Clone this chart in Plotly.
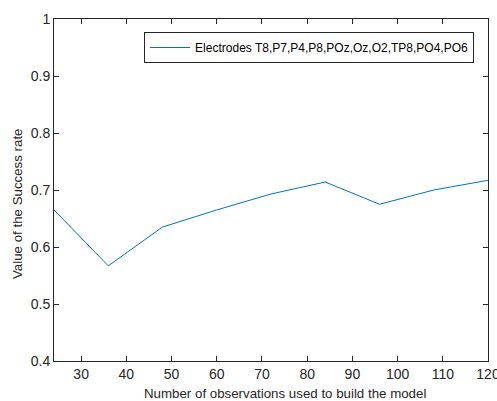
import plotly.graph_objects as go

observations = [24, 36, 48, 60, 72, 84, 96, 108, 120]
success_rate = [0.665, 0.567, 0.635, 0.665, 0.693, 0.714, 0.675, 0.700, 0.717]
series_name = "Electrodes T8,P7,P4,P8,POz,Oz,O2,TP8,PO4,PO6"
x_ticks = [30, 40, 50, 60, 70, 80, 90, 100, 110, 120]
y_ticks = [0.4, 0.5, 0.6, 0.7, 0.8, 0.9, 1]
y_ticklabels = ["0.4", "0.5", "0.6", "0.7", "0.8", "0.9", "1"]
x_title = "Number of observations used to build the model"
y_title = "Value of the Success rate"

fig = go.Figure()
fig.add_trace(go.Scatter(x=observations, y=success_rate, mode="lines",
                         name=series_name,
                         line=dict(color="#0072BD", width=1)))

axis_common = dict(showgrid=False, zeroline=False, showline=True, linecolor="#262626",
                   linewidth=1, mirror="ticks", ticks="inside", ticklen=5,
                   tickcolor="#262626", ticklabeloverflow="allow", automargin=False,
                   tickfont=dict(family="Liberation Sans", size=14, color="#262626"))

fig.update_layout(
    width=497, height=401,
    margin=dict(l=53.5, r=9, t=19, b=40, autoexpand=False),
    paper_bgcolor="white", plot_bgcolor="white",
    font=dict(family="Liberation Sans", size=13.3, color="#262626"),
    xaxis=dict(range=[24, 120], tickvals=x_ticks, **axis_common),
    yaxis=dict(range=[0.4, 1], tickvals=y_ticks, ticktext=y_ticklabels, **axis_common),
    showlegend=True,
    legend=dict(x=0.968, y=0.962, xanchor="right", yanchor="top",
                bordercolor="#262626", borderwidth=1, bgcolor="white",
                font=dict(family="Liberation Sans", size=12, color="#000000"),
                itemwidth=40, tracegroupgap=0),
    annotations=[
        dict(text=x_title, xref="paper", yref="paper", x=0.5315, y=-0.0936,
             xanchor="center", yanchor="middle", showarrow=False,
             font=dict(family="Liberation Sans", size=13.3, color="#262626")),
        dict(text=y_title, xref="paper", yref="paper", x=-0.084, y=0.4605,
             xanchor="center", yanchor="middle", showarrow=False, textangle=-90,
             font=dict(family="Liberation Sans", size=13.3, color="#262626")),
    ],
)

fig.write_html("out.html")
